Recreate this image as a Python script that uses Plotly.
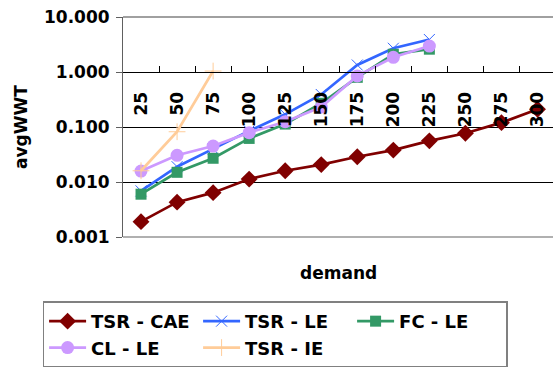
import plotly.graph_objects as go

# demand levels (category axis)
demand = ["25", "50", "75", "100", "125", "150", "175", "200", "225", "250", "275", "300"]

# average waiting time per strategy
tsr_cae = [0.0019, 0.0043, 0.0064, 0.0113, 0.016, 0.0207, 0.0288, 0.038, 0.056, 0.077, 0.12, 0.21]
tsr_le = [0.0069, 0.019, 0.040, 0.085, 0.17, 0.39, 1.34, 2.7, 3.9]
fc_le = [0.006, 0.015, 0.027, 0.062, 0.113, 0.27, 0.80, 2.1, 2.6]
cl_le = [0.0158, 0.0306, 0.045, 0.079, 0.125, 0.23, 0.85, 1.85, 2.96]
tsr_ie = [0.016, 0.082, 1.04]

y_ticks = [0.001, 0.01, 0.1, 1, 10]
y_ticktext = ["0.001", "0.010", "0.100", "1.000", "10.000"]

FONT = "DejaVu Sans"

series = [
    ("TSR - CAE", tsr_cae, "#800000", dict(symbol="diamond", size=13)),
    ("TSR - LE", tsr_le, "#3366FF", dict(symbol="x-thin", size=11, line=dict(width=1, color="#3366FF"))),
    ("FC - LE", fc_le, "#339966", dict(symbol="square", size=11)),
    ("CL - LE", cl_le, "#CC99FF", dict(symbol="circle", size=13)),
    ("TSR - IE", tsr_ie, "#FFCC99", dict(symbol="cross-thin", size=12, line=dict(width=1, color="#FFCC99"))),
]

fig = go.Figure()
for name, vals, color, marker in series:
    fig.add_trace(go.Scatter(
        x=demand[:len(vals)], y=vals, name=name, mode="lines+markers",
        line=dict(color=color, width=2.7),
        marker=dict(color=color, **marker),
    ))

fig.update_layout(
    width=553, height=367,
    margin=dict(l=123, r=0, t=17, b=130, autoexpand=False),
    paper_bgcolor="white", plot_bgcolor="white",
    font=dict(family=FONT, color="black", size=17),
    xaxis=dict(
        type="category", range=[-0.5, 11.43],
        anchor="free", position=0.75,
        showline=True, linecolor="black", linewidth=1,
        ticks="inside", ticklen=6, tickcolor="black", tickson="boundaries",
        tickangle=-90, ticklabelstandoff=12,
        tickfont=dict(family=FONT, size=17, color="black", weight="bold"),
        showgrid=False, zeroline=False,
    ),
    yaxis=dict(
        type="log", range=[-3, 1],
        tickvals=y_ticks, ticktext=y_ticktext,
        showline=True, linecolor="#606060", linewidth=1,
        ticks="outside", ticklen=6, tickcolor="#606060", ticklabelstandoff=3,
        tickfont=dict(family=FONT, size=17, color="black", weight="bold"),
        showgrid=True, gridcolor="black", gridwidth=1,
        zeroline=False,
    ),
    legend=dict(
        orientation="h", x=-0.187, xanchor="left", y=-0.293, yanchor="top",
        bordercolor="#808080", borderwidth=1.5, bgcolor="white",
        font=dict(family=FONT, size=18, color="black", weight="bold"),
        itemwidth=37, entrywidth=102, entrywidthmode="pixels",
        traceorder="normal", tracegroupgap=0,
    ),
    showlegend=True,
)

# plot-area border along the top and bottom edges
fig.add_shape(type="line", xref="paper", yref="paper", x0=0, x1=1, y0=1, y1=1,
              line=dict(color="#808080", width=1.5), layer="above")
fig.add_shape(type="line", xref="paper", yref="paper", x0=0, x1=1, y0=0, y1=0,
              line=dict(color="#b0b0b0", width=2), layer="above")

# axis titles
fig.add_annotation(text="<b>avgWWT</b>", xref="paper", yref="paper",
                   x=-0.237, y=0.5, xanchor="center", yanchor="middle",
                   textangle=-90, showarrow=False, font=dict(family=FONT, size=17))
fig.add_annotation(text="<b>demand</b>", xref="paper", yref="paper",
                   x=0.5, y=-0.164, xanchor="center", yanchor="middle",
                   showarrow=False, font=dict(family=FONT, size=17))

fig.write_html("out.html")
